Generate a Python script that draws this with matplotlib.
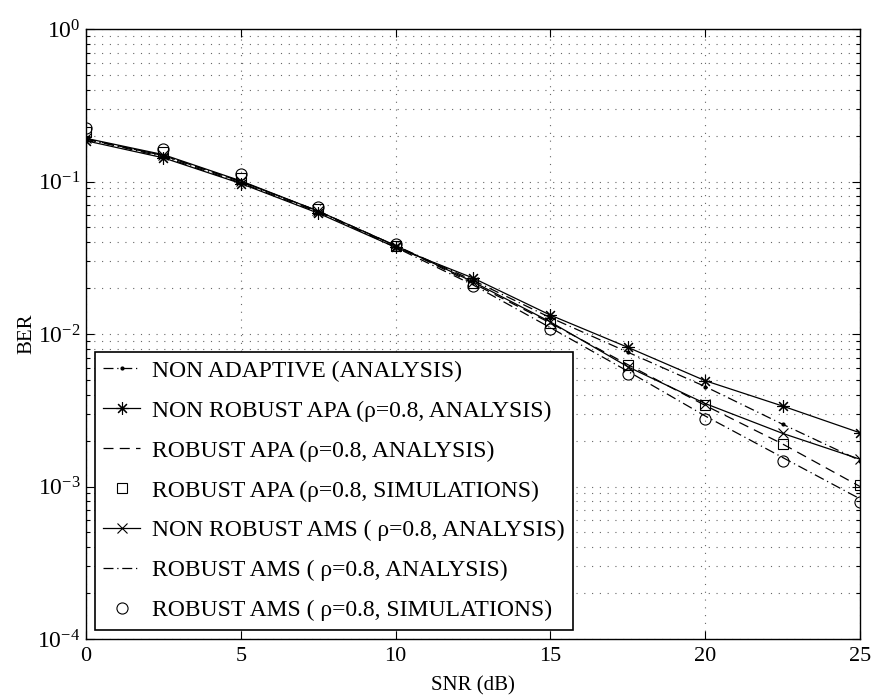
import matplotlib
matplotlib.use("Agg")
import matplotlib.pyplot as plt
from matplotlib.ticker import LogLocator, NullFormatter

plt.rcParams['font.family'] = ['Liberation Serif', 'DejaVu Serif']
plt.rcParams['mathtext.fontset'] = 'custom'
plt.rcParams['mathtext.rm'] = 'Liberation Serif'
plt.rcParams['mathtext.it'] = 'Liberation Serif:italic'
plt.rcParams['mathtext.bf'] = 'Liberation Serif:bold'

snr_db = [0, 2.5, 5, 7.5, 10, 12.5, 15, 17.5, 20, 22.5, 25]

ber_non_adaptive = [0.19, 0.145, 0.098, 0.063, 0.038, 0.0225, 0.0128, 0.0076, 0.00452, 0.00256, 0.00148]
ber_nr_apa = [0.185, 0.143, 0.097, 0.062, 0.037, 0.0233, 0.0133, 0.00818, 0.00494, 0.00337, 0.00225]
ber_r_apa_an = [0.19, 0.148, 0.100, 0.064, 0.038, 0.0215, 0.0118, 0.0063, 0.0034, 0.0019, 0.001]
ber_r_apa_sim = [0.212, 0.155, 0.105, 0.066, 0.038, 0.0216, 0.0118, 0.0063, 0.0034, 0.0019, 0.00102]
ber_nr_ams = [0.192, 0.150, 0.101, 0.064, 0.038, 0.022, 0.012, 0.0061, 0.0035, 0.00223, 0.00151]
ber_r_ams_an = [0.19, 0.148, 0.100, 0.064, 0.037, 0.021, 0.011, 0.0057, 0.0029, 0.00155, 0.00083]
ber_r_ams_sim = [0.224, 0.163, 0.112, 0.0684, 0.0388, 0.0206, 0.0108, 0.00547, 0.00276, 0.00148, 0.00079]

labels = [
    'NON ADAPTIVE (ANALYSIS)',
    'NON ROBUST APA (\u03c1=0.8, ANALYSIS)',
    'ROBUST APA (\u03c1=0.8, ANALYSIS)',
    'ROBUST APA (\u03c1=0.8, SIMULATIONS)',
    'NON ROBUST AMS ( \u03c1=0.8, ANALYSIS)',
    'ROBUST AMS ( \u03c1=0.8, ANALYSIS)',
    'ROBUST AMS ( \u03c1=0.8, SIMULATIONS)',
]

fig = plt.figure(figsize=(8.74, 6.96), dpi=100)
ax = fig.add_axes([0.0984, 0.0819, 0.8856, 0.8764])

lw = 0.9
k = 'black'
asterisk = (8, 2, 0)
ax.semilogy(snr_db, ber_non_adaptive, color=k, lw=lw, ls=(0, (8, 3, 1, 3)),
            marker='.', ms=4, label=labels[0])
ax.semilogy(snr_db, ber_nr_apa, color=k, lw=lw, ls='-', marker=asterisk, ms=9,
            mew=0.8, label=labels[1])
ax.semilogy(snr_db, ber_r_apa_an, color=k, lw=lw, ls=(0, (8, 5)),
            label=labels[2])
ax.semilogy(snr_db, ber_r_apa_sim, color=k, ls='none', marker='s', ms=7,
            mfc='none', mew=0.8, label=labels[3])
ax.semilogy(snr_db, ber_nr_ams, color=k, lw=lw, ls='-', marker='x', ms=7,
            mew=0.8, label=labels[4])
ax.semilogy(snr_db, ber_r_ams_an, color=k, lw=lw, ls=(0, (8, 3, 1, 3)),
            label=labels[5])
ax.semilogy(snr_db, ber_r_ams_sim, color=k, ls='none', marker='o', ms=8,
            mfc='none', mew=0.8, label=labels[6])

ax.set_xlim(0, 25)
ax.set_ylim(1e-4, 1)
ax.set_xticks([0, 5, 10, 15, 20, 25])
ax.yaxis.set_major_locator(LogLocator(base=10, numticks=10))
ax.yaxis.set_minor_locator(LogLocator(base=10, subs=range(2, 10), numticks=20))
ax.yaxis.set_minor_formatter(NullFormatter())

ax.tick_params(which='both', direction='in', top=True, right=True,
               labelsize=16, width=0.8)
ax.tick_params(which='major', length=6)
ax.tick_params(which='minor', length=3)
ax.tick_params(axis='x', pad=6)
ax.tick_params(axis='y', pad=4, labelsize=17)

grid_kw = dict(color='0.4', ls=(0, (1, 6)), lw=0.8)
ax.xaxis.grid(True, which='major', **grid_kw)
ax.yaxis.grid(True, which='both', **grid_kw)

for s in ax.spines.values():
    s.set_linewidth(1.0)

ax.set_xlabel('SNR (dB)', fontsize=15, labelpad=7)
ax.set_ylabel('BER', fontsize=15, labelpad=1)

leg = ax.legend(loc='lower left', bbox_to_anchor=(0.0116, 0.0154),
                fontsize=17, frameon=True, fancybox=False, edgecolor='black',
                framealpha=1, handlelength=1.55, handletextpad=0.5,
                labelspacing=0.78, borderpad=0.35, borderaxespad=0)
leg.get_frame().set_linewidth(1.2)

fig.savefig('out.png', dpi=100)
